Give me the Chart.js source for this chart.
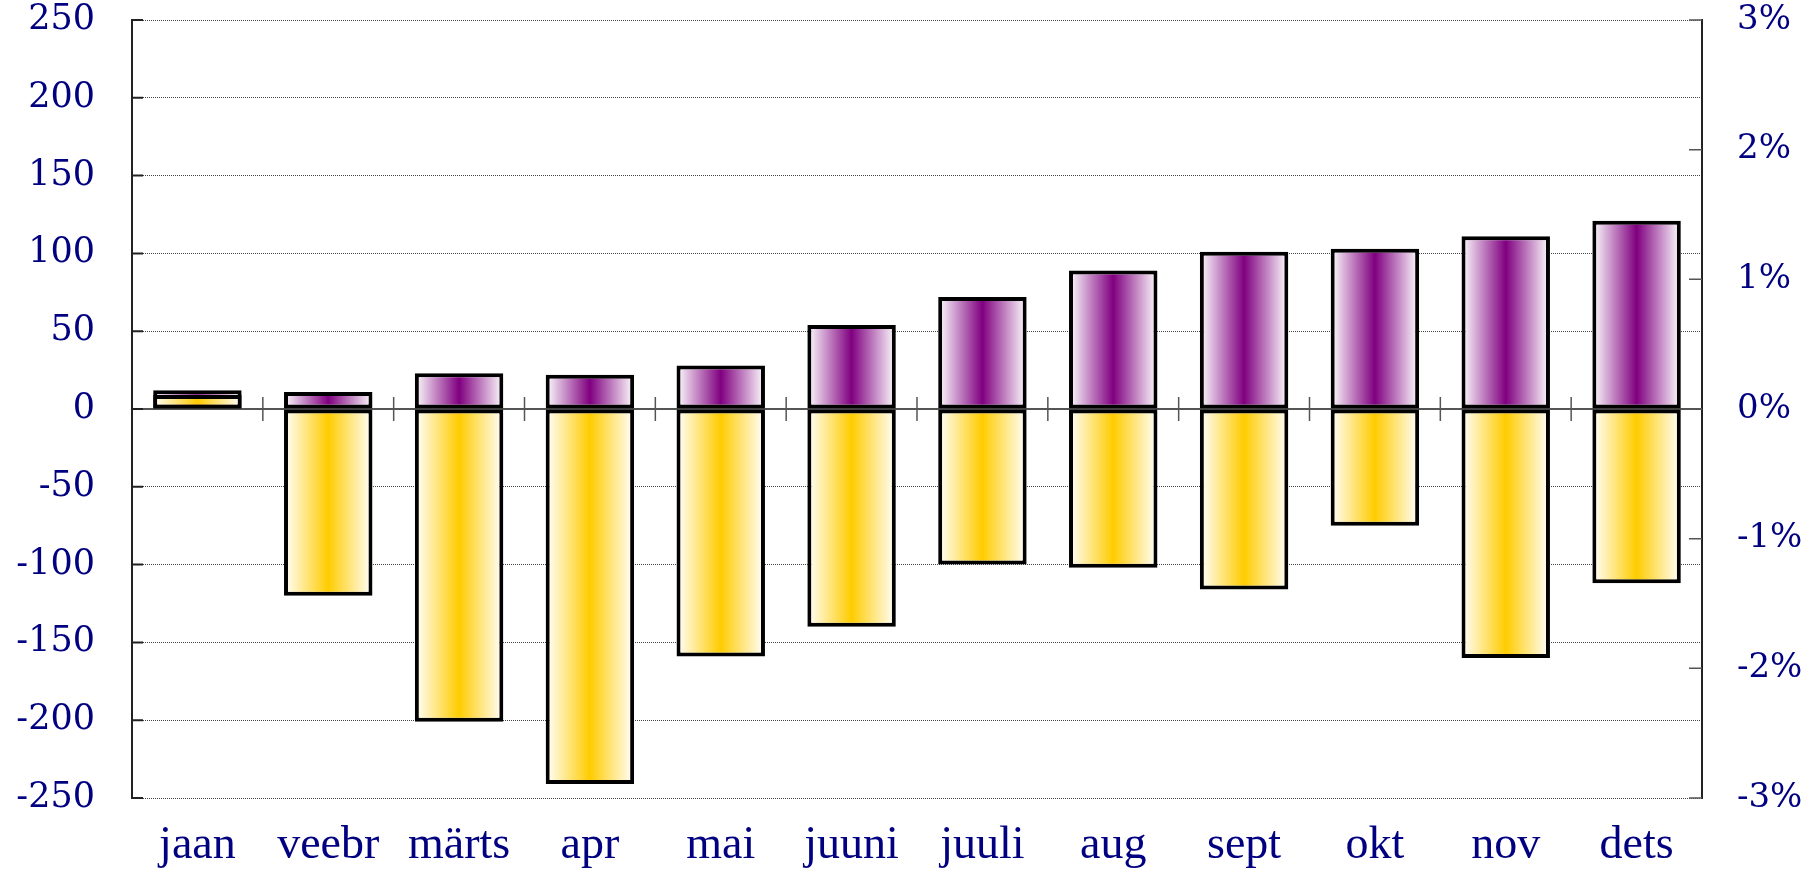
<!DOCTYPE html>
<html>
<head>
<meta charset="utf-8">
<title>Kuud</title>
<script src="https://cdn.jsdelivr.net/npm/chart.js@4.4.1/dist/chart.umd.min.js"></script>
<style>
  body { margin: 0; background: #fff; }
  #wrap { width: 1819px; height: 869px; position: relative; }
</style>
</head>
<body>
<div id="wrap"><canvas id="monthChart"></canvas></div>
<script>
// Data
const months = ['jaan', 'veebr', 'märts', 'apr', 'mai', 'juuni', 'juuli', 'aug', 'sept', 'okt', 'nov', 'dets'];
const purpleValues = [12, 11, 23, 22, 28, 54, 72, 89, 101, 103, 111, 121];
const yellowValues = [9, -120, -201, -241, -159, -140, -100, -102, -116, -75, -160, -112];
const leftTicks = [-250, -200, -150, -100, -50, 0, 50, 100, 150, 200, 250];
const rightTicks = [-3, -2, -1, 0, 1, 2, 3];

const BAR_PCT = 0.676;
const NAVY = '#000080';

document.addEventListener('DOMContentLoaded', function() {
  const chartCtx = document.getElementById('monthChart');

  // horizontal gradient across each bar: white - colour - white
  function barGradient(color) {
    return function(context) {
      const chart = context.chart;
      const xScale = chart.scales.x;
      if (!chart.chartArea || !xScale || context.dataIndex === undefined) {
        return color;
      }
      const center = xScale.getPixelForValue(context.dataIndex);
      const half = (xScale.width / months.length) * BAR_PCT / 2;
      const g = chart.ctx.createLinearGradient(center - half, 0, center + half, 0);
      g.addColorStop(0, '#ffffff');
      g.addColorStop(0.5, color);
      g.addColorStop(1, '#ffffff');
      return g;
    };
  }

  // zero line, category ticks on it and the short inner axis ticks
  const axisMarks = {
    id: 'axisMarks',
    beforeDatasetsDraw(chart) {
      const { ctx, chartArea } = chart;
      const x = chart.scales.x;
      const y = chart.scales.y;
      const y1 = chart.scales.y1;
      const zero = y.getPixelForValue(0);
      ctx.save();

      ctx.strokeStyle = '#555';
      ctx.lineWidth = 2;
      ctx.beginPath();
      ctx.moveTo(chartArea.left, zero);
      ctx.lineTo(chartArea.right, zero);
      ctx.stroke();

      ctx.lineWidth = 1.5;
      ctx.beginPath();
      for (let i = 1; i < months.length; i++) {
        const px = (x.getPixelForValue(i - 1) + x.getPixelForValue(i)) / 2;
        ctx.moveTo(px, zero - 12);
        ctx.lineTo(px, zero + 12);
      }
      ctx.stroke();

      ctx.strokeStyle = '#222';
      ctx.lineWidth = 2;
      ctx.beginPath();
      leftTicks.forEach(v => {
        const py = y.getPixelForValue(v);
        ctx.moveTo(chartArea.left, py);
        ctx.lineTo(chartArea.left + 11, py);
      });
      ctx.stroke();

      ctx.strokeStyle = '#555';
      ctx.lineWidth = 1.5;
      ctx.beginPath();
      rightTicks.forEach(v => {
        const py = y1.getPixelForValue(v);
        ctx.moveTo(chartArea.right - 13, py);
        ctx.lineTo(chartArea.right, py);
      });
      ctx.stroke();
      ctx.restore();
    }
  };

  new Chart(chartCtx, {
    type: 'bar',
    data: {
      labels: months,
      datasets: [
        {
          data: yellowValues,
          backgroundColor: barGradient('#ffcc00'),
          borderColor: '#000',
          borderWidth: 4,
          borderSkipped: false,
          grouped: false,
          order: 0
        },
        {
          data: purpleValues,
          backgroundColor: barGradient('#800080'),
          borderColor: '#000',
          borderWidth: 4,
          borderSkipped: false,
          grouped: false,
          order: 1
        }
      ]
    },
    options: {
      responsive: true,
      maintainAspectRatio: false,
      animation: false,
      layout: { padding: { top: 20, left: 0, right: 0, bottom: 0 } },
      datasets: {
        bar: { barPercentage: BAR_PCT, categoryPercentage: 1 }
      },
      plugins: {
        legend: { display: false },
        tooltip: { enabled: false }
      },
      scales: {
        x: {
          grid: { display: false, drawTicks: false },
          border: { display: false },
          ticks: {
            color: NAVY,
            padding: 20,
            font: { family: 'Liberation Serif', size: 46 }
          },
          afterFit: function(scale) {
            scale.height = 71;
            scale.paddingLeft = 0;
            scale.paddingRight = 0;
          }
        },
        y: {
          position: 'left',
          min: -250,
          max: 250,
          afterBuildTicks: function(scale) {
            scale.ticks = leftTicks.map(v => ({ value: v }));
          },
          grid: { color: '#444', lineWidth: 1, drawTicks: false },
          border: { display: true, color: '#222', width: 2, dash: [1, 1] },
          ticks: {
            color: NAVY,
            padding: 37,
            font: { family: 'DejaVu Serif', size: 35 }
          },
          afterFit: function(scale) {
            scale.width = 132;
            scale.paddingTop = 0;
            scale.paddingBottom = 0;
          }
        },
        y1: {
          position: 'right',
          min: -3,
          max: 3,
          afterBuildTicks: function(scale) {
            scale.ticks = rightTicks.map(v => ({ value: v }));
          },
          grid: { drawOnChartArea: false, drawTicks: false },
          border: { display: true, color: '#222', width: 2 },
          ticks: {
            color: NAVY,
            padding: 35,
            font: { family: 'DejaVu Serif', size: 34 },
            callback: function(value) { return value + '%'; }
          },
          afterFit: function(scale) {
            scale.width = 117;
            scale.paddingTop = 0;
            scale.paddingBottom = 0;
          }
        }
      }
    },
    plugins: [axisMarks]
  });
});
</script>
</body>
</html>
